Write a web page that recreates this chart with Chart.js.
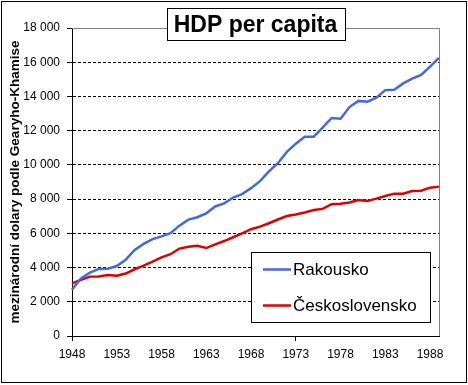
<!DOCTYPE html>
<html><head><meta charset="utf-8">
<script src="https://cdn.jsdelivr.net/npm/chart.js@4"></script>
<style>html,body{margin:0;padding:0;background:#fff}#wrap{position:relative;width:468px;height:385px}</style>
</head><body><div id="wrap"><canvas id="c" width="468" height="385"></canvas></div>
<script>
const years = [1948,1949,1950,1951,1952,1953,1954,1955,1956,1957,1958,1959,1960,1961,1962,1963,1964,1965,1966,1967,1968,1969,1970,1971,1972,1973,1974,1975,1976,1977,1978,1979,1980,1981,1982,1983,1984,1985,1986,1987,1988,1989];
const rakousko = [2700,3370,3700,3920,3930,4090,4460,5030,5380,5660,5820,6010,6450,6800,6940,7170,7570,7750,8090,8290,8640,9050,9620,10100,10760,11240,11650,11640,12180,12740,12700,13380,13740,13690,13930,14370,14390,14760,15040,15260,15740,16250];
const ceskoslovensko = [3080,3280,3470,3480,3560,3520,3650,3900,4110,4340,4600,4780,5110,5220,5270,5140,5350,5550,5770,6000,6240,6390,6590,6810,7010,7100,7220,7360,7430,7700,7730,7800,7950,7890,8030,8180,8320,8320,8470,8490,8670,8730];
const seriesNames = ['Rakousko', 'Československo'];
const seriesColors = ['#4169e1', '#e00000'];
const chartTitle = 'HDP per capita';
const yAxisTitle = 'mezinárodní dolary podle Gearyho-Khamise';
const yMin = 0, yMax = 18000, yStep = 2000;
const xLabelEvery = 5;

Chart.defaults.font.family = "'Liberation Sans', Arial, sans-serif";
Chart.defaults.color = '#000';

function fmt(v) { return String(v).replace(/\B(?=(\d{3})+(?!\d))/g, ' '); }
function shownX(i) { return (years[i] - years[0]) % xLabelEvery === 0; }

const framePlugin = {
  id: 'frame',
  beforeDraw(chart) {
    const ctx = chart.ctx;
    ctx.save();
    ctx.fillStyle = '#fff';
    ctx.fillRect(0, 0, chart.width, chart.height);
    ctx.restore();
  },
  afterDraw(chart) {
    const ctx = chart.ctx, a = chart.chartArea;
    ctx.save();
    ctx.strokeStyle = '#808080';
    ctx.lineWidth = 1;
    ctx.beginPath();
    ctx.moveTo(a.left, Math.round(a.top) + 0.5);
    ctx.lineTo(Math.round(a.right) + 0.5, Math.round(a.top) + 0.5);
    ctx.lineTo(Math.round(a.right) + 0.5, a.bottom);
    ctx.stroke();
    ctx.font = "bold 23px 'Liberation Sans', Arial, sans-serif";
    const tw = ctx.measureText(chartTitle).width;
    const cx = (a.left + a.right) / 2;
    const bw = Math.round(tw + 14), bh = 32;
    const bx = Math.round(cx - bw / 2) + 0.5, by = 8.5;
    ctx.fillStyle = '#fff';
    ctx.fillRect(bx, by, bw, bh);
    ctx.strokeStyle = '#000';
    ctx.lineWidth = 1;
    ctx.strokeRect(bx, by, bw, bh);
    ctx.fillStyle = '#000';
    ctx.textAlign = 'center';
    ctx.textBaseline = 'middle';
    ctx.fillText(chartTitle, cx, by + bh / 2 + 1);
    const lx = 251.5, ly = 252.5, lw = 179, lh = 70;
    ctx.fillStyle = '#fff';
    ctx.fillRect(lx, ly, lw, lh);
    ctx.strokeRect(lx, ly, lw, lh);
    ctx.font = "17px 'Liberation Sans', Arial, sans-serif";
    ctx.textAlign = 'left';
    chart.data.datasets.forEach((ds, i) => {
      const yy = 269.5 + i * 36;
      ctx.strokeStyle = ds.borderColor;
      ctx.lineWidth = 2.5;
      ctx.beginPath();
      ctx.moveTo(263, yy);
      ctx.lineTo(291, yy);
      ctx.stroke();
      ctx.fillStyle = '#000';
      ctx.fillText(ds.label, 293, yy + 1);
    });
    ctx.strokeStyle = '#000';
    ctx.lineWidth = 1;
    ctx.strokeRect(1.5, 1.5, 465, 381);
    ctx.restore();
  }
};

new Chart(document.getElementById('c'), {
  type: 'line',
  data: {
    labels: years,
    datasets: [
      { label: seriesNames[0], data: rakousko, borderColor: seriesColors[0], borderWidth: 2.5, pointRadius: 0, tension: 0, fill: false },
      { label: seriesNames[1], data: ceskoslovensko, borderColor: seriesColors[1], borderWidth: 2.5, pointRadius: 0, tension: 0, fill: false }
    ]
  },
  options: {
    responsive: false,
    animation: false,
    devicePixelRatio: 1,
    layout: { padding: { left: 0, top: 28, right: 29, bottom: 0 } },
    plugins: { legend: { display: false }, title: { display: false }, tooltip: { enabled: false } },
    scales: {
      x: {
        type: 'category',
        afterFit(s) { s.height = 49; },
        grid: {
          drawOnChartArea: false, drawTicks: true, tickLength: 5,
          tickColor: (c) => (c.index !== undefined && shownX(c.index)) ? '#000' : 'rgba(0,0,0,0)'
        },
        border: { color: '#000', width: 1 },
        ticks: {
          autoSkip: false, maxRotation: 0, padding: 6, color: '#000',
          font: { size: 12 },
          callback: (v, i) => shownX(i) ? String(years[i]) : null
        }
      },
      y: {
        min: yMin, max: yMax,
        afterFit(s) { s.width = 72; },
        grid: {
          color: (c) => (c.tick && (c.tick.value === yMin || c.tick.value === yMax)) ? 'rgba(0,0,0,0)' : '#000',
          tickColor: '#000', tickLength: 5, lineWidth: 1
        },
        border: { color: '#000', width: 1, dash: [3, 2] },
        ticks: { stepSize: yStep, padding: 7, color: '#000', font: { size: 12 }, callback: (v) => fmt(v) },
        title: { display: true, text: yAxisTitle, color: '#000', font: { size: 13.5, weight: 'bold' }, padding: { top: 7, bottom: 0 } }
      }
    }
  },
  plugins: [framePlugin]
});
</script></body></html>
